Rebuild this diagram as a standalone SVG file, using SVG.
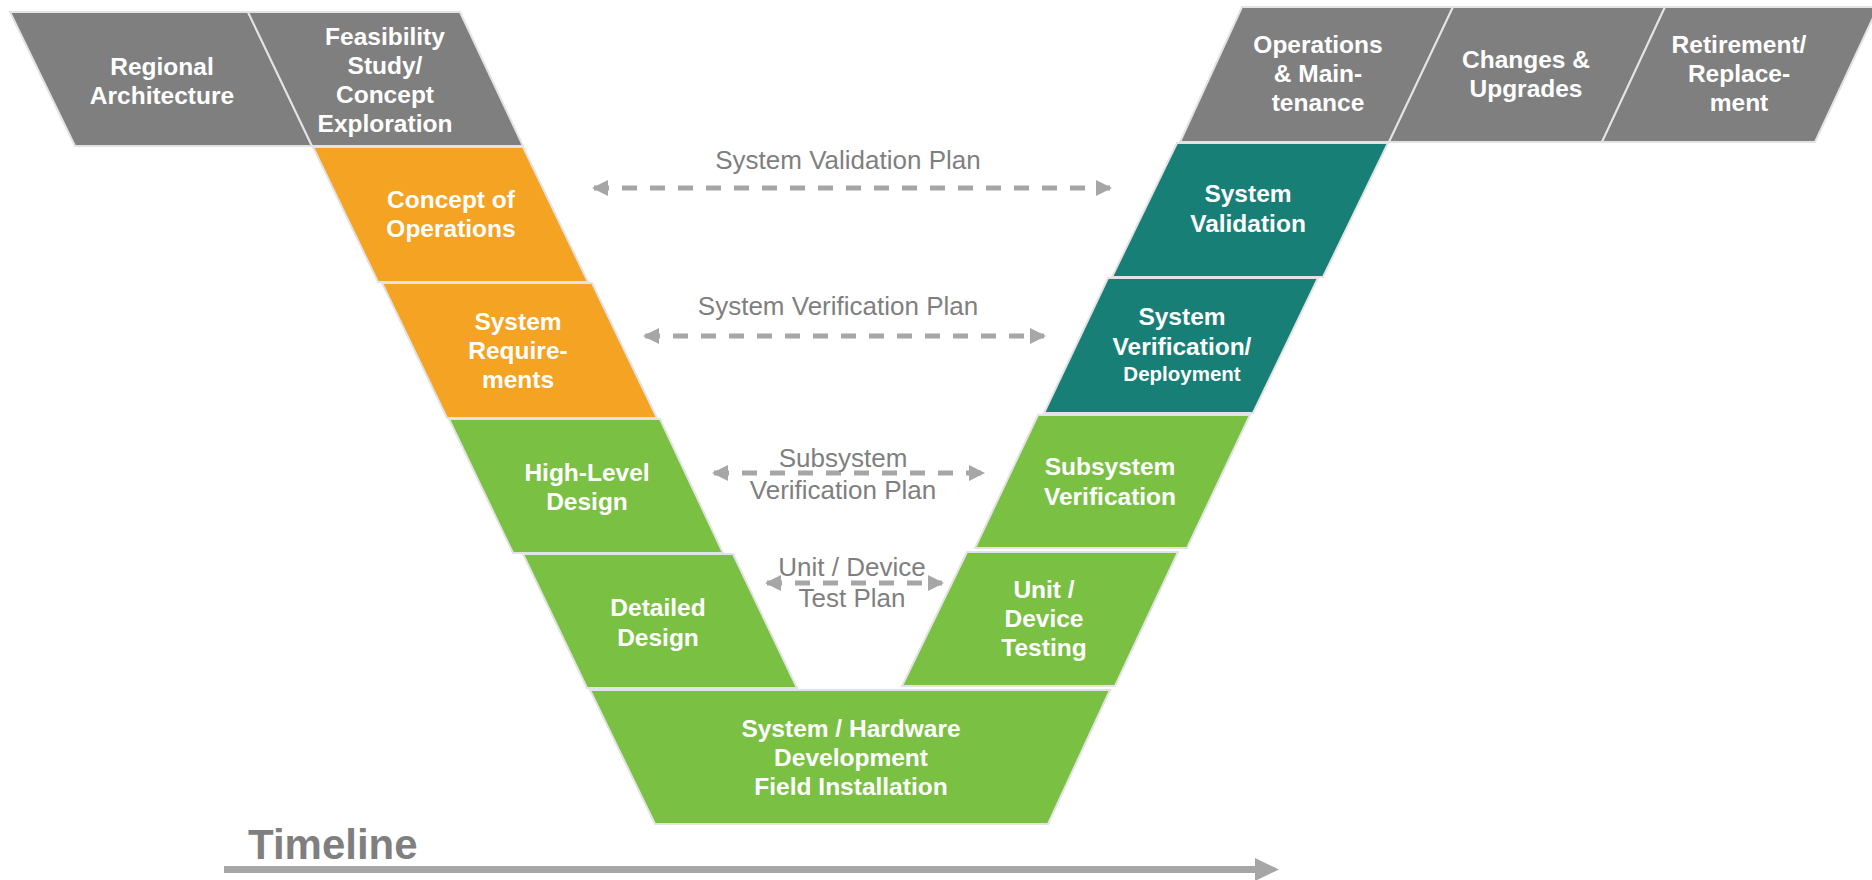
<svg xmlns="http://www.w3.org/2000/svg" width="1872" height="880" viewBox="0 0 1872 880">
<style>
.sh{stroke:#e3e3e3;stroke-width:2;stroke-linejoin:miter}
.gray{fill:#7f7f7f}
.orange{fill:#f5a322}
.teal{fill:#187f77}
.green{fill:#7ac143}
.lbl{font-family:"Liberation Sans",Arial,sans-serif;font-weight:bold;font-size:24.5px;fill:#ffffff;text-anchor:middle}
.small{font-size:20.5px}
.plan{font-family:"Liberation Sans",Arial,sans-serif;font-size:26px;fill:#7f7f7f;text-anchor:middle}
.dash{stroke:#a6a6a6;stroke-width:5;stroke-dasharray:15 13;fill:none}
</style>
<defs>
<marker id="ah" viewBox="0 0 16 16" refX="14" refY="8" markerWidth="16" markerHeight="16" markerUnits="userSpaceOnUse" orient="auto-start-reverse">
<path d="M0,0 L16,8 L0,16 Z" fill="#a6a6a6"/>
</marker>
</defs>
<rect width="1872" height="880" fill="#ffffff"/>

<g id="regional-architecture">
<polygon class="sh gray" points="10,12 248,12 312,146 75,146"/>
<text class="lbl" x="162" y="75">Regional</text>
<text class="lbl" x="162" y="104">Architecture</text>
</g>
<g id="feasibility-study">
<polygon class="sh gray" points="248,12 460,12 523,146 312,146"/>
<text class="lbl" x="385" y="45">Feasibility</text>
<text class="lbl" x="385" y="74">Study/</text>
<text class="lbl" x="385" y="103">Concept</text>
<text class="lbl" x="385" y="132">Exploration</text>
</g>
<g id="concept-of-operations">
<polygon class="sh orange" points="313,147 523,147 588,282 378,282"/>
<text class="lbl" x="451" y="208">Concept of</text>
<text class="lbl" x="451" y="237">Operations</text>
</g>
<g id="system-requirements">
<polygon class="sh orange" points="382,283 592,283 657,418 447,418"/>
<text class="lbl" x="518" y="330">System</text>
<text class="lbl" x="518" y="359">Require-</text>
<text class="lbl" x="518" y="388">ments</text>
</g>
<g id="high-level-design">
<polygon class="sh green" points="449,419 660,419 723,553 513,553"/>
<text class="lbl" x="587" y="481">High-Level</text>
<text class="lbl" x="587" y="510">Design</text>
</g>
<g id="detailed-design">
<polygon class="sh green" points="523,554 733,554 797,688 587,688"/>
<text class="lbl" x="658" y="616">Detailed</text>
<text class="lbl" x="658" y="646">Design</text>
</g>
<g id="system-hardware-development">
<polygon class="sh green" points="590,690 1110,690 1048,824 655,824"/>
<text class="lbl" x="851" y="737">System / Hardware</text>
<text class="lbl" x="851" y="766">Development</text>
<text class="lbl" x="851" y="795">Field Installation</text>
</g>
<g id="unit-device-testing">
<polygon class="sh green" points="967,552 1178,552 1115,686 902,686"/>
<text class="lbl" x="1044" y="598">Unit /</text>
<text class="lbl" x="1044" y="627">Device</text>
<text class="lbl" x="1044" y="656">Testing</text>
</g>
<g id="subsystem-verification">
<polygon class="sh green" points="1038,415 1250,415 1187,548 975,548"/>
<text class="lbl" x="1110" y="475">Subsystem</text>
<text class="lbl" x="1110" y="505">Verification</text>
</g>
<g id="system-verification-deployment">
<polygon class="sh teal" points="1108,278 1318,278 1253,413 1044,413"/>
<text class="lbl" x="1182" y="325">System</text>
<text class="lbl" x="1182" y="355">Verification/</text>
<text class="lbl small" x="1182" y="381">Deployment</text>
</g>
<g id="system-validation">
<polygon class="sh teal" points="1177,143 1388,143 1323,277 1112,277"/>
<text class="lbl" x="1248" y="202">System</text>
<text class="lbl" x="1248" y="232">Validation</text>
</g>
<g id="operations-maintenance">
<polygon class="sh gray" points="1242,7 1453,7 1389,142 1180,142"/>
<text class="lbl" x="1318" y="53">Operations</text>
<text class="lbl" x="1318" y="82">&amp; Main-</text>
<text class="lbl" x="1318" y="111">tenance</text>
</g>
<g id="changes-upgrades">
<polygon class="sh gray" points="1453,7 1665,7 1602,142 1389,142"/>
<text class="lbl" x="1526" y="68">Changes &amp;</text>
<text class="lbl" x="1526" y="97">Upgrades</text>
</g>
<g id="retirement-replacement">
<polygon class="sh gray" points="1665,7 1878,7 1815,142 1602,142"/>
<text class="lbl" x="1739" y="53">Retirement/</text>
<text class="lbl" x="1739" y="82">Replace-</text>
<text class="lbl" x="1739" y="111">ment</text>
</g>

<g id="connectors">
<line class="dash" x1="594" y1="188" x2="1110" y2="188" marker-start="url(#ah)" marker-end="url(#ah)"/>
<line class="dash" x1="645" y1="336" x2="1044" y2="336" marker-start="url(#ah)" marker-end="url(#ah)"/>
<line class="dash" x1="714" y1="473" x2="983" y2="473" marker-start="url(#ah)" marker-end="url(#ah)"/>
<line class="dash" x1="767" y1="583" x2="942" y2="583" marker-start="url(#ah)" marker-end="url(#ah)"/>
</g>

<g id="plan-labels">
<text class="plan" x="848" y="169">System Validation Plan</text>
<text class="plan" x="838" y="315">System Verification Plan</text>
<text class="plan" x="843" y="467">Subsystem</text>
<text class="plan" x="843" y="499">Verification Plan</text>
<text class="plan" x="852" y="576">Unit / Device</text>
<text class="plan" x="852" y="607">Test Plan</text>
</g>

<g id="timeline">
<text x="248" y="859" font-family="Liberation Sans, Arial, sans-serif" font-weight="bold" font-size="42" fill="#7f7f7f">Timeline</text>
<rect x="224" y="866" width="1032" height="7" fill="#a6a6a6"/>
<polygon points="1255,858 1279,869.5 1255,881" fill="#a6a6a6"/>
</g>
</svg>
